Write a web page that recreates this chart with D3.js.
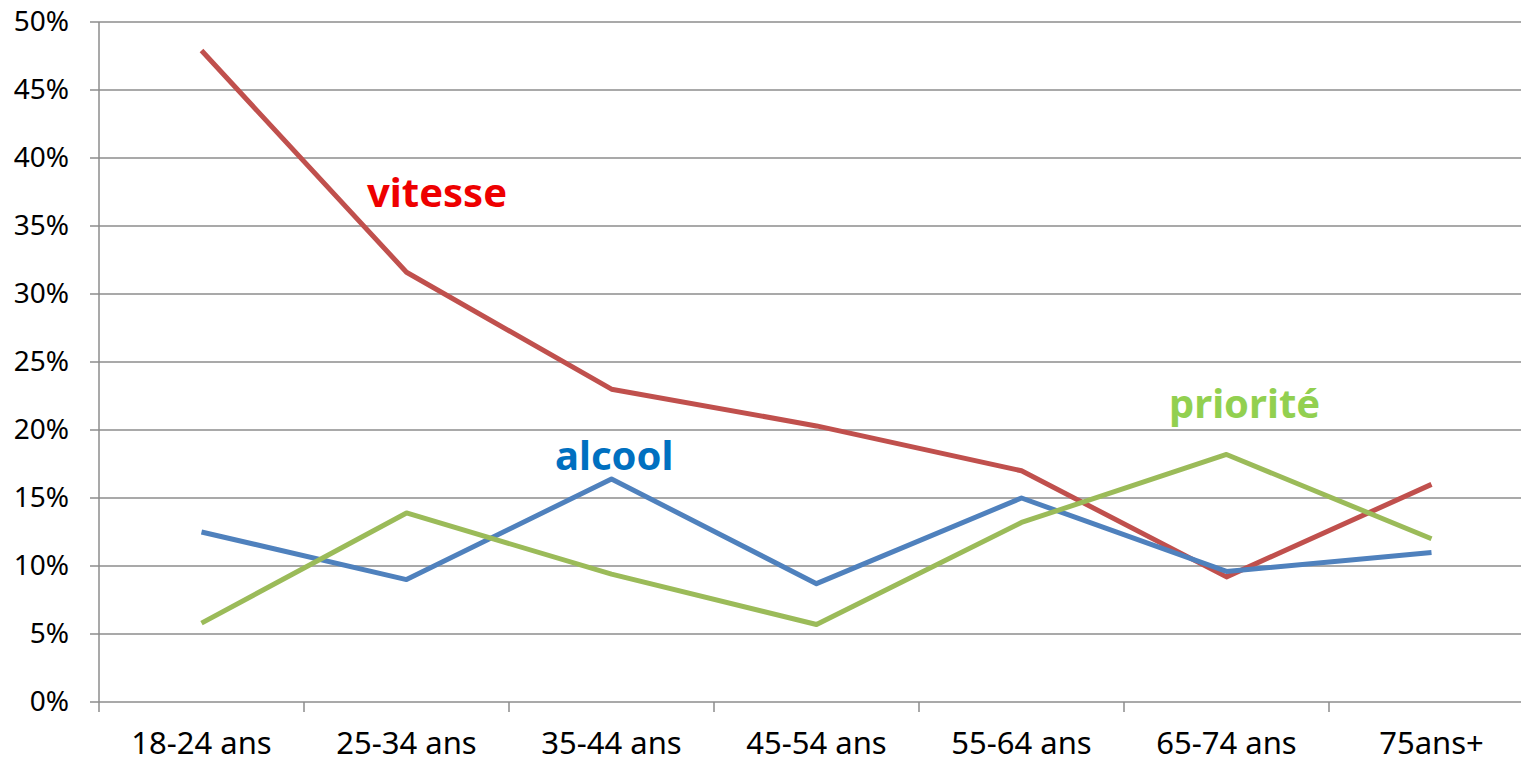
<!DOCTYPE html>
<html>
<head>
<meta charset="utf-8">
<script src="https://cdn.jsdelivr.net/npm/d3@7"></script>
<style>
  body { margin: 0; background: #fff; }
  svg text { font-family: "Noto Sans", "Open Sans", sans-serif; }
</style>
</head>
<body>
<svg id="chart"></svg>
<script>
var width = 1521;
var height = 765;
var margin = { top: 22, right: -13, bottom: 63, left: 99 };

var ageGroups = ["18-24 ans", "25-34 ans", "35-44 ans", "45-54 ans", "55-64 ans", "65-74 ans", "75ans+"];
var vitesse = [47.9, 31.6, 23.0, 20.3, 17.0, 9.2, 16.0];
var alcool = [12.5, 9.0, 16.4, 8.7, 15.0, 9.6, 11.0];
var priorite = [5.8, 13.9, 9.4, 5.7, 13.2, 18.2, 12.0];
var yTicks = [0, 5, 10, 15, 20, 25, 30, 35, 40, 45, 50];

var series = [
  { name: "vitesse", values: vitesse, color: "#c0504d", labelColor: "#ee0000", labelAt: [367, 207] },
  { name: "alcool", values: alcool, color: "#4f81bd", labelColor: "#0070c0", labelAt: [555, 470] },
  { name: "priorité", values: priorite, color: "#9bbb59", labelColor: "#92d050", labelAt: [1169, 418] }
];

var svg = d3.select("#chart")
            .attr("width", width)
            .attr("height", height);

var xScale = d3.scaleBand()
               .domain(ageGroups)
               .range([margin.left, width - margin.right])
               .paddingInner(0).paddingOuter(0);

var yScale = d3.scaleLinear()
               .domain([0, 50])
               .range([height - margin.bottom, margin.top]);

// gridlines
svg.append("g")
   .selectAll("line")
   .data(yTicks)
   .enter().append("line")
     .attr("x1", margin.left - 9)
     .attr("x2", width)
     .attr("y1", function(d) { return yScale(d); })
     .attr("y2", function(d) { return yScale(d); })
     .attr("stroke", "#8c8c8c")
     .attr("stroke-width", 1.5);

// y axis
var yAxis = svg.append("g")
   .attr("transform", "translate(" + margin.left + ",0)")
   .call(d3.axisLeft(yScale).tickValues(yTicks).tickSize(9).tickFormat(function(d) { return d + "%"; }));
yAxis.select(".domain").attr("stroke", "#8c8c8c").attr("stroke-width", 1.5)
     .attr("d", "M0," + yScale(50) + "V" + (yScale(0) + 10));
yAxis.selectAll(".tick line").remove();
yAxis.selectAll("text")
     .attr("x", -30)
     .style("font-size", "28px")
     .style("fill", "#000")
     .style("font-family", "'Noto Sans', sans-serif");

// x axis
var xAxis = svg.append("g")
   .attr("transform", "translate(0," + yScale(0) + ")")
   .call(d3.axisBottom(xScale).tickSize(0).tickPadding(30));
xAxis.select(".domain").remove();
xAxis.selectAll("text")
     .style("font-size", "31px")
     .style("fill", "#000")
     .style("font-family", "'Noto Sans', sans-serif");

// x tick marks at category boundaries
svg.append("g")
   .selectAll("line")
   .data(ageGroups.slice(1))
   .enter().append("line")
     .attr("x1", function(d) { return xScale(d); })
     .attr("x2", function(d) { return xScale(d); })
     .attr("y1", yScale(0))
     .attr("y2", yScale(0) + 10)
     .attr("stroke", "#8c8c8c")
     .attr("stroke-width", 1.5);

var line = d3.line()
             .x(function(d, i) { return xScale(ageGroups[i]) + xScale.bandwidth() / 2; })
             .y(function(d) { return yScale(d); });

svg.selectAll(".series")
   .data(series)
   .enter().append("path")
     .attr("class", "series")
     .attr("d", function(s) { return line(s.values); })
     .attr("fill", "none")
     .attr("stroke", function(s) { return s.color; })
     .attr("stroke-width", 5)
     .attr("stroke-linejoin", "round");

svg.selectAll(".lbl")
   .data(series)
   .enter().append("text")
     .attr("class", "lbl")
     .attr("x", function(s) { return s.labelAt[0]; })
     .attr("y", function(s) { return s.labelAt[1]; })
     .style("font-size", "40px")
     .attr("font-weight", "bold")
     .attr("fill", function(s) { return s.labelColor; })
     .text(function(s) { return s.name; });
</script>
</body>
</html>
